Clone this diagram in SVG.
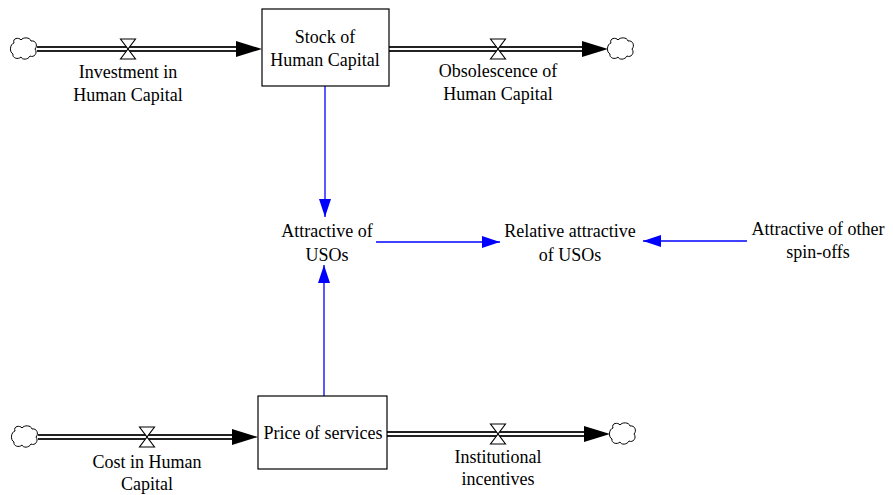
<svg xmlns="http://www.w3.org/2000/svg" width="893" height="495" viewBox="0 0 893 495">
<style>
text{font-family:'Liberation Serif','Times New Roman','DejaVu Serif',serif;font-size:18px;fill:#000;text-anchor:middle}
.box{fill:#fff;stroke:#000;stroke-width:1.2}
.pipeo{stroke:#222;stroke-width:6;fill:none}
.pipei{stroke:#fff;stroke-width:2;fill:none}
.valve{fill:#fff;stroke:#000;stroke-width:1.1}
.cloud{fill:#fff;stroke:#000;stroke-width:1}
.link{stroke:#0000ff;stroke-width:1.3;fill:none}
</style>
<defs>
<marker id="blue" viewBox="0 0 18 12" refX="18" refY="6" markerWidth="18" markerHeight="12" markerUnits="userSpaceOnUse" orient="auto"><path d="M0,0L18,6L0,12z" fill="#0000ff"/></marker>
<path id="cl" d="M-10,-6 C-12,-11 -5,-12 -3,-9 C-1,-12 6,-12 7,-8 C12,-9 14,-3 11,0 C14,4 10,9 6,7 C4,11 -2,11 -3,8 C-6,11 -12,9 -11,5 C-15,3 -14,-5 -10,-6z"/>
<path id="vv" d="M-7.5,-10 L7.5,-10 L-7.5,10 L7.5,10 Z"/>
</defs>
<g id="flows">
<g id="investment-flow">
<path class="pipeo" d="M37,49 H238"/><path class="pipei" d="M37,49 H238"/>
<path d="M236,41 L262,49 L236,57z" fill="#000"/>
<use href="#cl" x="24" y="49" class="cloud"/>
<use href="#vv" x="128" y="49" class="valve"/>
<text x="128" y="78" font-family="Liberation Serif, serif">Investment in</text><text x="128" y="101" font-family="Liberation Serif, serif">Human Capital</text>
</g>
<g id="obsolescence-flow">
<path class="pipeo" d="M389,49 H584"/><path class="pipei" d="M389,49 H584"/>
<path d="M582,41 L608,49 L582,57z" fill="#000"/>
<use href="#cl" x="621" y="49" class="cloud"/>
<use href="#vv" x="498" y="49" class="valve"/>
<text x="498" y="77">Obsolescence of</text><text x="498" y="100">Human Capital</text>
</g>
<g id="cost-flow">
<path class="pipeo" d="M38,437 H234"/><path class="pipei" d="M38,437 H234"/>
<path d="M232,429 L258,437 L232,445z" fill="#000"/>
<use href="#cl" x="25" y="437" class="cloud"/>
<use href="#vv" x="147" y="437" class="valve"/>
<text x="147" y="468">Cost in Human</text><text x="147" y="490">Capital</text>
</g>
<g id="incentives-flow">
<path class="pipeo" d="M387,434 H586"/><path class="pipei" d="M387,434 H586"/>
<path d="M584,426 L610,434 L584,442z" fill="#000"/>
<use href="#cl" x="623" y="434" class="cloud"/>
<use href="#vv" x="498" y="434" class="valve"/>
<text x="498" y="463">Institutional</text><text x="498" y="485">incentives</text>
</g>
</g>
<g id="connectors">
<path class="link" d="M325,86 V217" marker-end="url(#blue)"/>
<path class="link" d="M324,396 V265" marker-end="url(#blue)"/>
<path class="link" d="M376,242 H500" marker-end="url(#blue)"/>
<path class="link" d="M747,241 H643" marker-end="url(#blue)"/>
</g>
<g id="stock-human-capital">
<rect class="box" x="262" y="9" width="127" height="77"/>
<text x="325" y="43">Stock of</text><text x="325" y="66">Human Capital</text>
</g>
<g id="price-of-services">
<rect class="box" x="258" y="396" width="129" height="73"/>
<text x="323" y="439">Price of services</text>
</g>
<g id="attractive-usos">
<text x="327" y="237">Attractive of</text><text x="327" y="261">USOs</text>
</g>
<g id="relative-attractive">
<text x="570" y="237">Relative attractive</text><text x="570" y="261">of USOs</text>
</g>
<g id="attractive-other">
<text x="818" y="235">Attractive of other</text><text x="818" y="258">spin-offs</text>
</g>
</svg>
